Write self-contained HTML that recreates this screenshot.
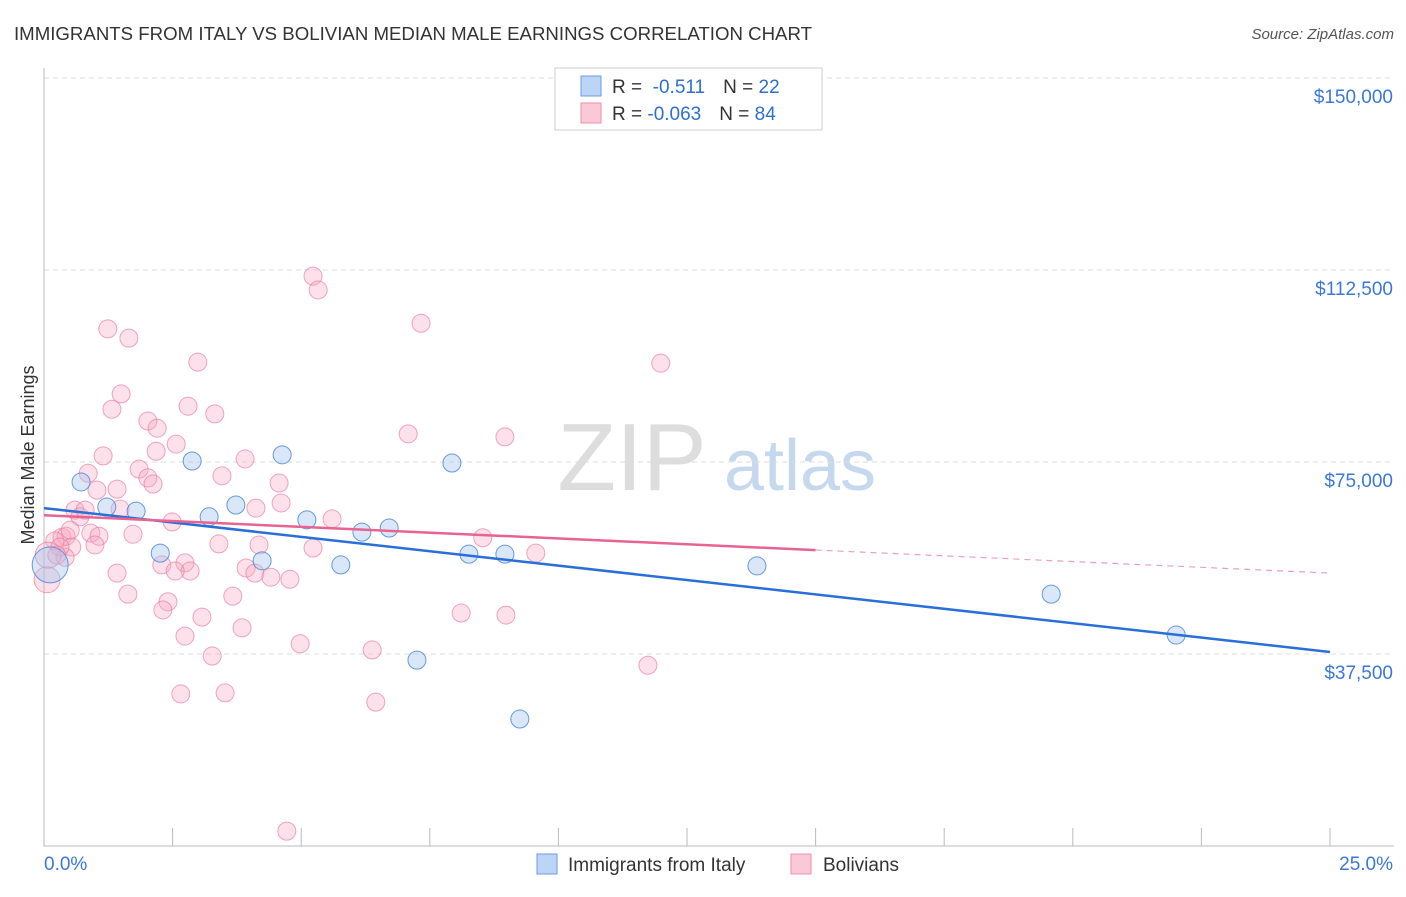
<!DOCTYPE html>
<html><head><meta charset="utf-8"><style>
body{margin:0;background:#fff;font-family:"Liberation Sans",sans-serif}
svg text{font-family:"Liberation Sans",sans-serif}
</style></head><body>
<svg id="chart" width="1406" height="892">
<text x="14" y="40" font-size="18" fill="#333" textLength="798" lengthAdjust="spacingAndGlyphs">IMMIGRANTS FROM ITALY VS BOLIVIAN MEDIAN MALE EARNINGS CORRELATION CHART</text>
<text x="1394" y="39" font-size="15" fill="#555" font-style="italic" text-anchor="end">Source: ZipAtlas.com</text>
<text transform="translate(34,455) rotate(-90)" font-size="18" fill="#333" text-anchor="middle">Median Male Earnings</text>
<g><text x="632" y="490" font-size="96" font-family="Liberation Serif" fill="#ddd" text-anchor="middle">ZIP</text><text x="800" y="490" font-size="72" fill="#c5d8ee" text-anchor="middle">atlas</text></g>
<g id="grid"></g><g id="axes"></g><g id="marks"></g>
<g>
<rect x="555" y="68" width="267" height="62" fill="#fff" stroke="#ccc"/>
<rect x="581" y="76" width="20" height="20" fill="#bcd4f5" stroke="#6d9be0"/>
<rect x="581" y="103" width="20" height="20" fill="#fbc8d8" stroke="#ec8fab"/>
<text x="612" y="93" font-size="19" fill="#333">R = <tspan fill="#2f6fd0">&#160;-0.511</tspan><tspan dx="18">N = </tspan><tspan fill="#2f6fd0">22</tspan></text>
<text x="612" y="120" font-size="19" fill="#333">R = <tspan fill="#2f6fd0">-0.063</tspan><tspan dx="18">N = </tspan><tspan fill="#2f6fd0">84</tspan></text>
</g>
<g>
<rect x="537" y="854" width="20" height="20" fill="#bcd4f5" stroke="#6d9be0"/>
<text x="568" y="871" font-size="19" fill="#333">Immigrants from Italy</text>
<rect x="791" y="854" width="20" height="20" fill="#fbc8d8" stroke="#ec8fab"/>
<text x="823" y="871" font-size="19" fill="#333">Bolivians</text>
</g>
</svg>
<script>
const yTicks=[37500,75000,112500,150000];
const yTickLabels=["$37,500","$75,000","$112,500","$150,000"];
const xTicks=[0,2.5,5,7.5,10,12.5,15,17.5,20,22.5,25];
const italyX=[0.72,1.22,1.79,2.26,2.88,3.21,3.73,4.24,4.63,5.11,5.77,6.18,6.71,7.25,7.93,8.26,8.96,9.25,13.86,19.58,22.01,0.12];
const italyY=[71.1,66.2,65.4,57.2,75.2,64.3,66.6,55.7,76.4,63.7,54.9,61.3,62.1,36.3,74.8,57.0,57.0,24.8,54.7,49.2,41.2,54.9];
const bolX=[5.23,5.33,1.24,1.65,7.33,2.99,11.99,1.50,1.32,2.80,3.32,2.02,2.20,7.08,8.96,2.57,2.18,1.15,3.91,1.85,0.86,3.46,2.02,2.12,1.42,1.03,4.57,4.61,4.12,0.60,0.70,1.48,2.49,5.60,1.73,0.35,0.43,0.91,1.07,0.21,0.54,3.40,4.18,5.23,8.53,9.56,0.41,0.31,2.74,2.29,2.84,2.55,3.93,1.42,4.10,4.41,4.78,1.63,3.67,2.41,2.31,8.11,8.98,3.07,3.85,2.74,4.98,3.27,6.38,11.74,2.66,3.52,6.45,4.72,0.06,0.08,0.51,0.25,0.99,0.80];
const bolY=[111.3,108.6,101.0,99.2,102.1,94.5,94.3,88.3,85.3,85.9,84.4,83.0,81.6,80.5,79.9,78.5,77.1,76.2,75.6,73.6,72.8,72.3,71.9,70.7,69.7,69.5,70.9,67.0,66.0,65.6,64.3,65.8,63.3,63.9,60.9,60.3,60.5,61.1,60.5,59.6,58.4,59.0,58.8,58.2,60.2,57.2,56.4,58.4,55.3,54.9,53.7,53.7,54.3,53.3,53.3,52.5,52.1,49.2,48.8,47.7,46.1,45.5,45.1,44.7,42.6,41.0,39.5,37.1,38.3,35.3,29.7,29.9,28.1,2.9,52.0,56.8,61.7,56.8,58.8,65.6];
const italyTrend=[[0,66.0],[25,37.9]];
const bolTrendSolid=[[0,64.6],[15.0,57.8]];
const bolTrendDash=[[15.0,57.8],[25,53.3]];
const NS="http://www.w3.org/2000/svg";
const X=v=>44+v/25*1286, Y=v=>846-v/37500*192, Yk=v=>Y(v*1000);
function mk(t,a,p){const e=document.createElementNS(NS,t);for(const k in a)e.setAttribute(k,a[k]);p.appendChild(e);return e;}
const grid=document.getElementById('grid'),axes=document.getElementById('axes'),marks=document.getElementById('marks');
yTicks.forEach((v,i)=>{
 const l=mk('line',{x1:44,x2:1394,y1:Y(v),y2:Y(v),stroke:'#ddd','stroke-dasharray':'5,4'},grid);
 
 
 const t=mk('text',{x:1393,y:Y(v)+25,'font-size':19,fill:'#3b78d8','text-anchor':'end'},axes);t.textContent=yTickLabels[i];
 
 
});
const ax=mk('path',{d:'M44 68V846H1394',fill:'none',stroke:'#bbb'},axes);


xTicks.slice(1).forEach(v=>{const l=mk('line',{x1:X(v),x2:X(v),y1:828,y2:846,stroke:'#bbb'},axes);
 
 });
[[0,"0.0%","start",44],[25,"25.0%","end",1393]].forEach(a=>{const t=mk('text',{x:a[3],y:870,'font-size':19,fill:'#3b78d8','text-anchor':a[2]},axes);t.textContent=a[1];
 
 });
bolX.forEach((x,i)=>{const r=(i>=74&&i<=75)?13:9;const c=mk('circle',{cx:X(x),cy:Yk(bolY[i]),r:r,fill:'rgba(247,170,195,0.35)',stroke:'rgba(232,120,155,0.65)','stroke-width':1},marks);
 
 });
italyX.forEach((x,i)=>{const r=i==21?18:9;const c=mk('circle',{cx:X(x),cy:Yk(italyY[i]),r:r,fill:'rgba(160,195,240,0.4)',stroke:'rgba(70,130,215,0.8)','stroke-width':1},marks);
 
 });
const ln=(d,col,dash,w,name)=>{const l=mk('line',{x1:X(d[0][0]),y1:Yk(d[0][1]),x2:X(d[1][0]),y2:Yk(d[1][1]),stroke:col,'stroke-width':w},marks);if(dash)l.setAttribute('stroke-dasharray',dash);
 
 };
ln(italyTrend,'#2a6fd8',null,2.5,'italy-trend-line');
ln(bolTrendSolid,'#e8648f',null,2.5,'bolivian-trend-line');
ln(bolTrendDash,'#eaa0b8','6,5',1.2,'bolivian-trend-extension');
</script>
</body></html>
